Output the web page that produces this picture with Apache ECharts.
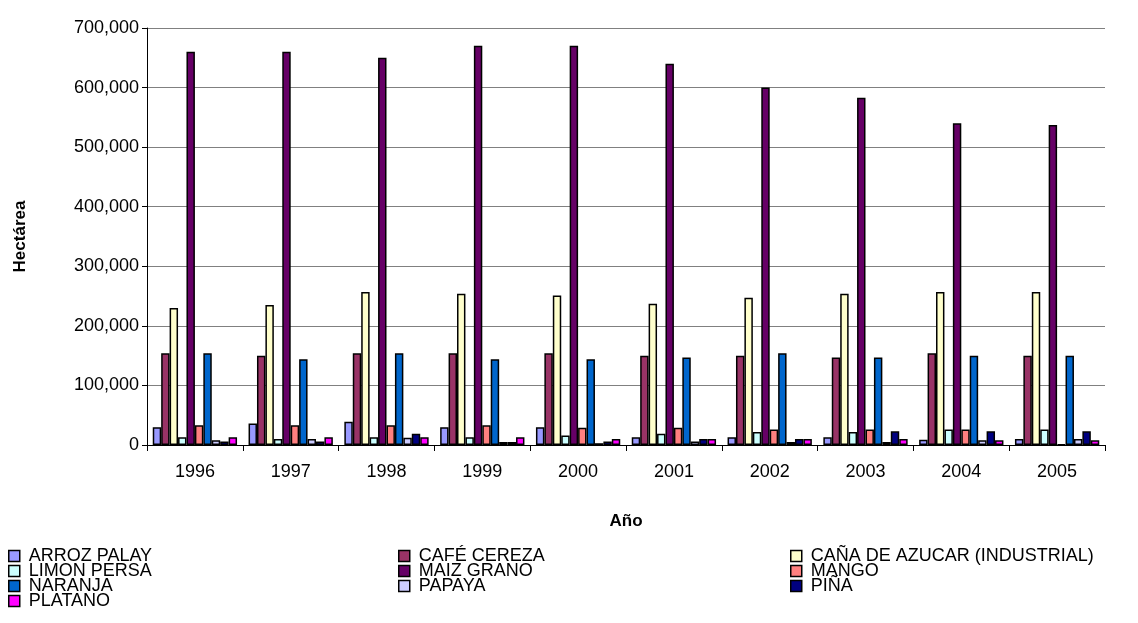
<!DOCTYPE html>
<html>
<head>
<meta charset="utf-8">
<script src="https://cdn.jsdelivr.net/npm/echarts@6/dist/echarts.min.js"></script>
<style>
  html, body { margin: 0; padding: 0; background: #fff; }
  #chart { width: 1138px; height: 623px; }
</style>
</head>
<body>
<div id="chart"></div>
<script>
const years = ['1996', '1997', '1998', '1999', '2000', '2001', '2002', '2003', '2004', '2005']

const arrozPalay = [30000, 36000, 39000, 30000, 30000, 13000, 13000, 13000, 9000, 10000]
const cafeCereza = [154000, 150000, 154000, 154000, 154000, 150000, 150000, 147000, 154000, 150000]
const canaAzucar = [230000, 235000, 257000, 254000, 251000, 237000, 247000, 254000, 257000, 257000]
const limonPersa = [13000, 10000, 13000, 13000, 16000, 19000, 22000, 22000, 26000, 26000]
const maizGrano = [660000, 660000, 650000, 670000, 670000, 640000, 600000, 583000, 540000, 537000]
const mango = [33000, 33000, 33000, 33000, 29000, 29000, 26000, 26000, 26000, 1000]
const naranja = [154000, 144000, 154000, 144000, 144000, 147000, 154000, 147000, 150000, 150000]
const papaya = [8000, 10000, 12000, 5000, 3000, 6000, 5000, 5000, 8000, 10000]
const pina = [6000, 6000, 19000, 5000, 6000, 10000, 10000, 23000, 23000, 23000]
const platano = [13000, 13000, 13000, 13000, 10000, 10000, 10000, 10000, 8000, 8000]

const seriesDefs = [
  {name: 'ARROZ PALAY', data: arrozPalay, color: '#9999FF'},
  {name: 'CAFÉ CEREZA', data: cafeCereza, color: '#993366'},
  {name: 'CAÑA DE AZUCAR (INDUSTRIAL)', data: canaAzucar, color: '#FFFFCC'},
  {name: 'LIMON PERSA', data: limonPersa, color: '#CCFFFF'},
  {name: 'MAIZ GRANO', data: maizGrano, color: '#660066'},
  {name: 'MANGO', data: mango, color: '#FF8080'},
  {name: 'NARANJA', data: naranja, color: '#0066CC'},
  {name: 'PAPAYA', data: papaya, color: '#CCCCFF'},
  {name: 'PIÑA', data: pina, color: '#000080'},
  {name: 'PLATANO', data: platano, color: '#FF00FF'}
]

const font = 'Liberation Sans, Arial, sans-serif'

const legendCol = (left, names) => ({
  orient: 'vertical',
  left: left,
  top: 547,
  height: 120,
  itemWidth: 11,
  itemHeight: 11,
  itemGap: -3,
  padding: 0,
  icon: 'rect',
  data: names,
  textStyle: {fontFamily: font, fontSize: 18, color: '#000', padding: [0, 0, 0, 4]},
  itemStyle: {borderColor: '#000', borderWidth: 1.5},
  selectedMode: false
})

const chart = echarts.init(document.getElementById('chart'))
chart.setOption({
  animation: false,
  color: seriesDefs.map(s => s.color),
  grid: {left: 147, right: 33, top: 28, bottom: 178, containLabel: false},
  legend: [
    legendCol(8, ['ARROZ PALAY', 'LIMON PERSA', 'NARANJA', 'PLATANO']),
    legendCol(398, ['CAFÉ CEREZA', 'MAIZ GRANO', 'PAPAYA']),
    legendCol(790, ['CAÑA DE AZUCAR (INDUSTRIAL)', 'MANGO', 'PIÑA'])
  ],
  xAxis: {
    type: 'category',
    data: years,
    name: 'Año',
    nameLocation: 'middle',
    nameGap: 68,
    nameTextStyle: {fontFamily: font, fontSize: 17, fontWeight: 'bold', color: '#000'},
    axisLine: {lineStyle: {color: '#000', width: 1}},
    axisTick: {show: true, length: 6, lineStyle: {color: '#000'}},
    axisLabel: {fontFamily: font, fontSize: 18, color: '#000', margin: 18}
  },
  yAxis: {
    type: 'value',
    min: 0,
    max: 700000,
    interval: 100000,
    name: 'Hectárea',
    nameLocation: 'middle',
    nameGap: 118,
    nameTextStyle: {fontFamily: font, fontSize: 17, fontWeight: 'bold', color: '#000'},
    axisLine: {show: true, lineStyle: {color: '#000', width: 1}},
    axisTick: {show: true, length: 5, lineStyle: {color: '#000'}},
    splitLine: {lineStyle: {color: '#808080', width: 1}},
    axisLabel: {
      fontFamily: font, fontSize: 18, color: '#000', margin: 8,
      formatter: v => v.toLocaleString('en-US')
    }
  },
  series: seriesDefs.map(s => ({
    name: s.name,
    type: 'bar',
    data: s.data,
    barGap: '0%',
    barCategoryGap: '12%',
    itemStyle: {color: s.color, borderColor: '#000', borderWidth: 1.5}
  }))
})
</script>
</body>
</html>
